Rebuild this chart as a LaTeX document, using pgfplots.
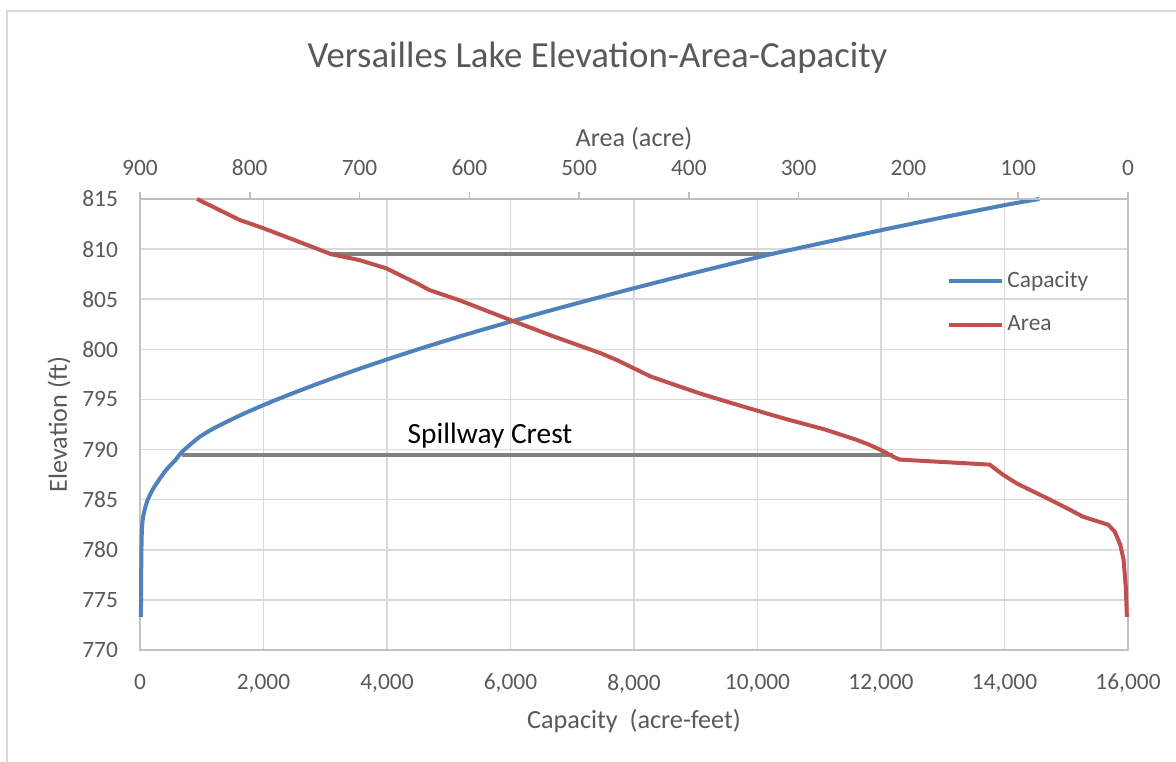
\documentclass[border=0pt]{standalone}
\usepackage{fontspec}
\setmainfont{Carlito}
\usepackage{pgfplots}
\usepackage{pgfplotstable}
\pgfplotsset{compat=1.18}

\definecolor{capblue}{HTML}{4F81BD}
\definecolor{areared}{HTML}{C0504D}
\definecolor{crestgray}{HTML}{808080}
\definecolor{txt}{HTML}{595959}
\definecolor{gridc}{HTML}{D9D9D9}
\definecolor{axisc}{HTML}{BFBFBF}

% capacity (acre-feet) against elevation (ft)
\pgfplotstableread{
cap elev
15 773.3
20 778
26 781
36 782.5
57 783.5
98 784.5
125 785
205 786
310 787
428 788
580 789
655 789.6
720 790
910 791
972 791.3
1160 792
1349 792.6
1651 793.5
2000 794.44
2425 795.5
2849 796.5
3249 797.4
3619 798.2
4052 799.1
4502 800
4813 800.6
5292 801.5
6000 802.76
6600 803.8
7200 804.8
7875 805.9
8570 807
9220 808
9750 808.8
10220 809.5
11114 810.7
12010 811.9
12870 813
14010 814.4
14563 815
}\captable

% surface area (acre) against elevation (ft)
\pgfplotstableread{
area elev
1 773.3
2 776.3
4 779
7 780.5
12 781.8
18 782.5
41 783.3
53 784
71 785
101 786.6
114 787.5
126 788.5
208 789
214 789.3
226 790
236 790.5
248 791
262 791.5
276 792
293 792.5
310 793
329 793.6
360 794.6
390 795.6
414 796.5
435 797.3
450 798.1
465 798.9
480 799.6
503 800.5
526 801.4
562 802.9
609 804.9
636 805.9
648 806.6
676 808.1
700 808.9
726 809.5
764 811.1
788 812.1
809 812.9
848 815
}\areatable

\begin{document}
\begin{tikzpicture}
\useasboundingbox (0,0) rectangle (588pt,380.5pt);
\draw[gridc, line width=0.75pt] (3.5pt,-10pt) rectangle (600pt,375pt);

\pgfplotsset{
  chartbox/.style={
    at={(70pt,55.5pt)}, anchor=south west,
    scale only axis, width=494pt, height=225.5pt,
    ymin=770, ymax=815, clip=false,
    tick label style={text=txt, font=\fontsize{11.7}{14}\selectfont},
    label style={text=txt, font=\fontsize{13.1}{15.5}\selectfont},
    /pgf/number format/assume math mode=true,
  },
}

\begin{axis}[chartbox,
  xmin=0, xmax=16000,
  xtick={0,2000,...,16000}, ytick={770,775,...,815},
  scaled x ticks=false,
  xticklabel style={/pgf/number format/1000 sep={,}, yshift=-8.5pt},
  yticklabel style={xshift=-7.5pt},
  major tick length=0pt,
  grid=major, grid style={gridc, line width=0.75pt},
  axis line style={draw=gridc!90!black, line width=0.75pt},
  xlabel={Capacity\ \ (acre-feet)},
  xlabel style={at={(axis description cs:0.5,-0.173)}, anchor=base},
  ylabel={Elevation (ft)},
  ylabel style={at={(axis description cs:-0.074,0.5)}, anchor=base},
  title={Versailles Lake Elevation-Area-Capacity},
  title style={at={(axis description cs:0.463,1.2905)}, anchor=base, yshift=-6pt,
    text=txt, font=\fontsize{18.4}{22}\selectfont},
  legend cell align=left,
  legend image code/.code={\draw[#1] (0pt,0pt) -- (26.5pt,0pt);},
  legend style={draw=none, fill=none,
    at={(axis description cs:0.8168,0.847)}, anchor=north west,
    inner sep=0pt, row sep=9.5pt,
    nodes={inner sep=1.5pt, text=txt, font=\fontsize{11.7}{14}\selectfont}},
]
\addplot[crestgray, line width=2pt, forget plot] coordinates {(3080,809.5) (10220,809.5)};
\addplot[crestgray, line width=2pt, forget plot] coordinates {(675,789.5) (12200,789.5)};
\addplot[capblue, line width=2pt, smooth, tension=0.4] table[x=cap, y=elev] {\captable};
\addlegendentry{Capacity}
\addlegendimage{areared, line width=2pt}
\addlegendentry{Area}
\node[anchor=base, text=black, font=\fontsize{14.7}{17}\selectfont]
  at (axis cs:5668,790.65) {Spillway Crest};
\end{axis}

\begin{axis}[chartbox,
  xmin=0, xmax=900, x dir=reverse,
  xtick={0,100,...,900},
  axis x line*=top, hide y axis,
  axis line style={-, draw=axisc, line width=1pt},
  tick align=outside, major tick length=3.5pt,
  tick style={axisc, line width=0.75pt},
  xticklabel style={yshift=4.5pt},
  xlabel={Area (acre)},
  xlabel shift=-2pt,
]
\addplot[areared, line width=2pt] table[x=area, y=elev] {\areatable};
\end{axis}
\end{tikzpicture}
\end{document}
